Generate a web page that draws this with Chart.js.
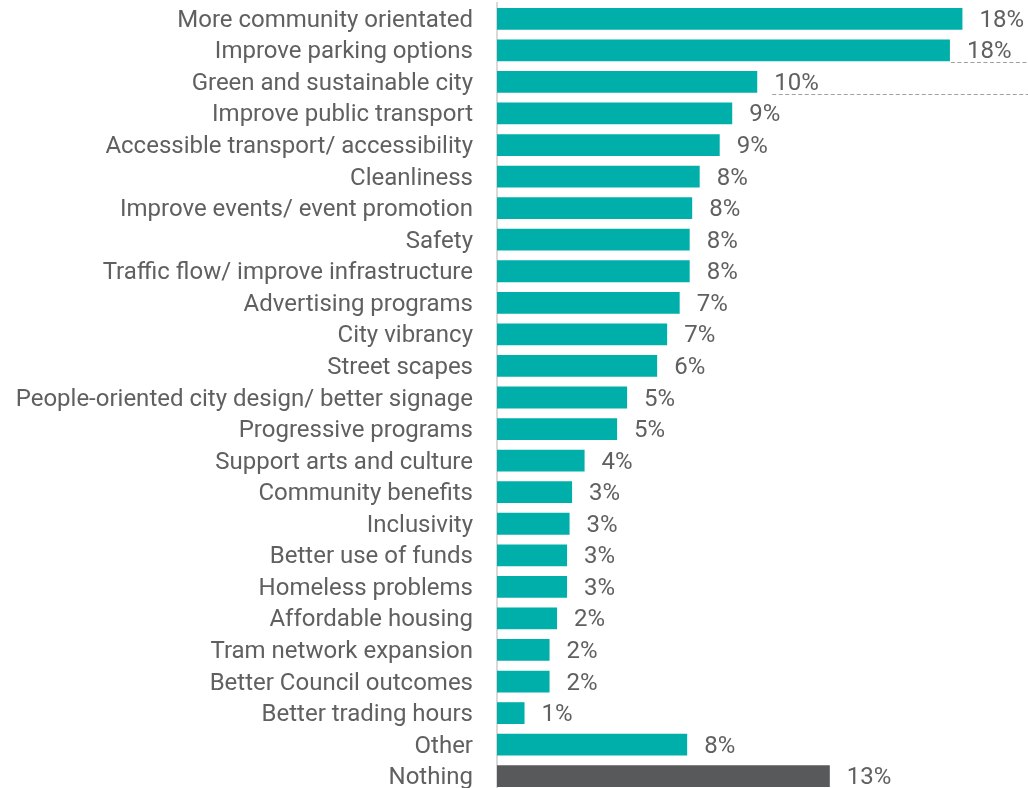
<!DOCTYPE html>
<html>
<head>
<meta charset="utf-8">
<script src="https://cdn.jsdelivr.net/npm/chart.js@4.4.1/dist/chart.umd.min.js"></script>
<style>
  html, body { margin: 0; padding: 0; background: #fff; overflow: hidden; }
  #wrap { position: relative; width: 1028px; height: 792px; }
</style>
</head>
<body>
<div id="wrap"><canvas id="chart"></canvas></div>
<script>
// categories, top to bottom
const categories = [
  "More community orientated",
  "Improve parking options",
  "Green and sustainable city",
  "Improve public transport",
  "Accessible transport/ accessibility",
  "Cleanliness",
  "Improve events/ event promotion",
  "Safety",
  "Traffic flow/ improve infrastructure",
  "Advertising programs",
  "City vibrancy",
  "Street scapes",
  "People-oriented city design/ better signage",
  "Progressive programs",
  "Support arts and culture",
  "Community benefits",
  "Inclusivity",
  "Better use of funds",
  "Homeless problems",
  "Affordable housing",
  "Tram network expansion",
  "Better Council outcomes",
  "Better trading hours",
  "Other",
  "Nothing"
];

// share of responses (%)
const shares = [
  18.6, 18.1, 10.4, 9.4, 8.9, 8.1, 7.8, 7.7, 7.7, 7.3,
  6.8, 6.4, 5.2, 4.8, 3.5, 3.0, 2.9, 2.8, 2.8, 2.4,
  2.1, 2.1, 1.1, 7.6, 13.3
];

// labels printed next to the bars
const shareLabels = [
  "18%", "18%", "10%", "9%", "9%", "8%", "8%", "8%", "8%", "7%",
  "7%", "6%", "5%", "5%", "4%", "3%", "3%", "3%", "3%", "2%",
  "2%", "2%", "1%", "8%", "13%"
];

// rows that carry a dashed leader line under their label
const leaderRows = [1, 2];

const teal = "#00afa9";
const darkGrey = "#58595b";
const textGrey = "#606060";
const FONT = "Roboto";

const barColors = categories.map(c => c === "Nothing" ? darkGrey : teal);

// value labels + leader lines
const valueLabels = {
  id: "valueLabels",
  afterDatasetsDraw(chart) {
    const { ctx } = chart;
    const meta = chart.getDatasetMeta(0);
    ctx.save();
    ctx.font = `400 24px ${FONT}`;
    ctx.fillStyle = textGrey;
    ctx.textAlign = "left";
    ctx.textBaseline = "middle";
    meta.data.forEach((bar, i) => {
      ctx.fillText(shareLabels[i], bar.x + 17, bar.y + 2);
    });

    ctx.strokeStyle = "#a0a0a0";
    ctx.lineWidth = 1;
    ctx.setLineDash([4, 2.5]);
    leaderRows.forEach((i, k) => {
      const bar = meta.data[i];
      const x0 = k === 0 ? bar.x + 1 : bar.x + 15;
      const y = Math.round(bar.y + 12) + 0.5;
      ctx.beginPath();
      ctx.moveTo(x0, y);
      ctx.lineTo(chart.width, y);
      ctx.stroke();
    });
    ctx.restore();
  }
};

new Chart(document.getElementById("chart"), {
  type: "bar",
  data: {
    labels: categories,
    datasets: [{
      data: shares,
      backgroundColor: barColors,
      borderWidth: 0,
      categoryPercentage: 1,
      barPercentage: 0.69
    }]
  },
  options: {
    indexAxis: "y",
    responsive: true,
    maintainAspectRatio: false,
    animation: false,
    layout: { padding: { top: 3, right: 0, bottom: 0, left: 0 } },
    scales: {
      x: {
        display: false,
        min: 0,
        max: 21.22
      },
      y: {
        afterFit(scale) {
          scale.width = 497;
          scale.paddingTop = 0;
          scale.paddingBottom = 0;
        },
        grid: { display: false, drawTicks: false },
        border: { display: true, color: "#d9d9d9", width: 2 },
        ticks: {
          autoSkip: false,
          padding: 24,
          labelOffset: 2,
          color: textGrey,
          font: { family: FONT, size: 24, weight: 400 }
        }
      }
    },
    plugins: {
      legend: { display: false },
      tooltip: { enabled: false }
    }
  },
  plugins: [valueLabels]
});
</script>
</body>
</html>
